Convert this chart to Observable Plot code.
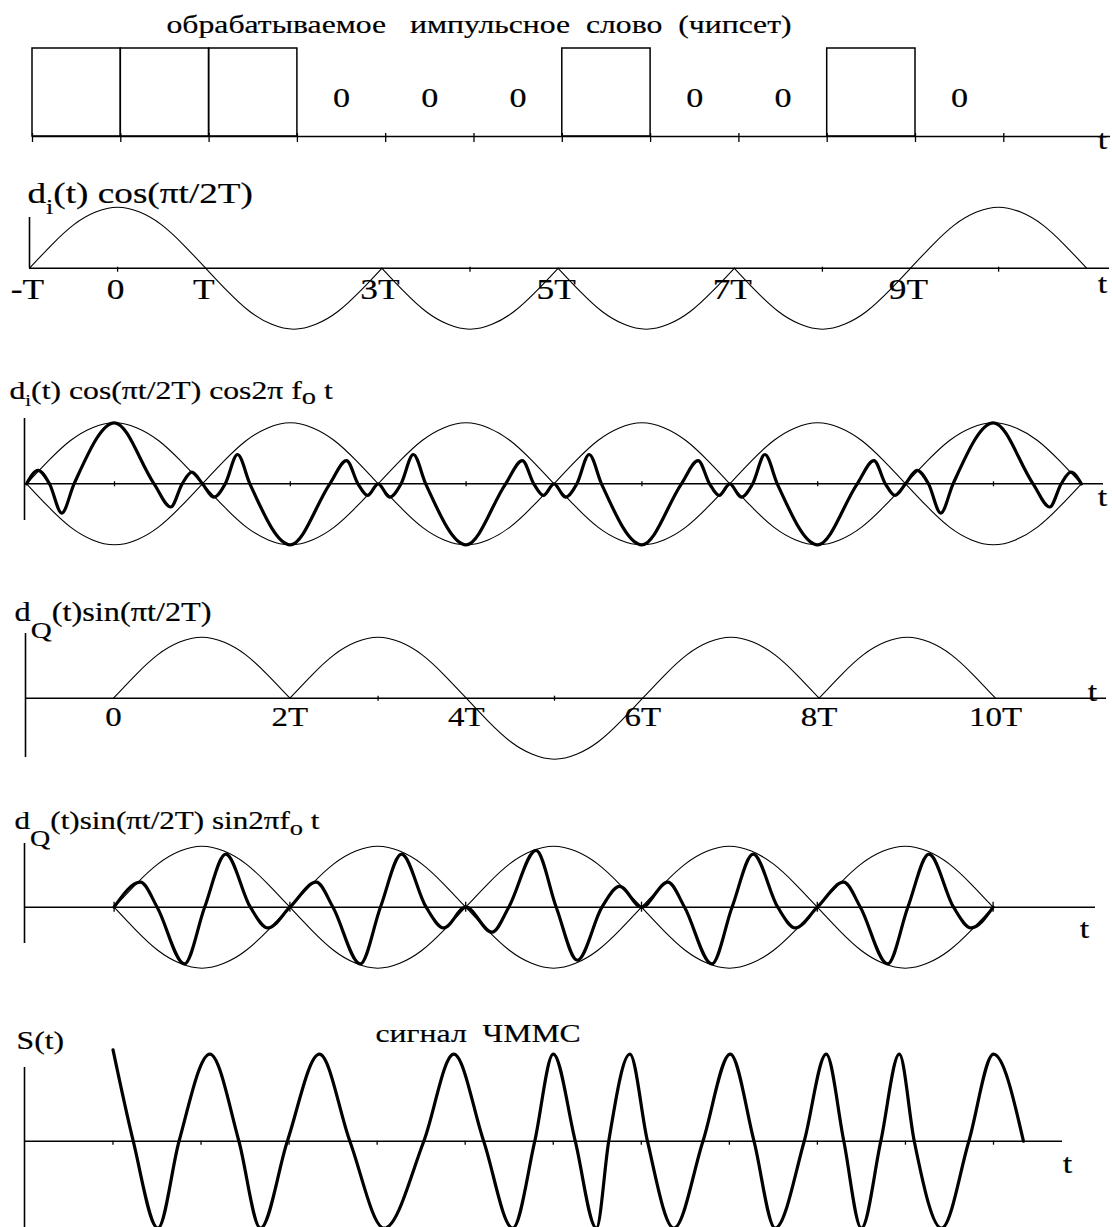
<!DOCTYPE html>
<html><head><meta charset="utf-8">
<script src="https://cdn.jsdelivr.net/npm/d3@7"></script>
<script src="https://cdn.jsdelivr.net/npm/@observablehq/plot@0.6"></script>
<style>
html,body{margin:0;padding:0;background:#fff;}
#chart{position:relative;width:1112px;height:1227px;overflow:hidden;background:#fff;}
#chart svg{position:absolute;left:0;}
#chart svg text{font-family:"Liberation Serif","Times New Roman",serif !important;}
</style></head><body><div id="chart"></div>
<script>
// ---------------- data ----------------
// chip word (each chip lasts T, first chip starts at t = -T)
const chips = [1,1,1,0,0,0,1,0,0,1,0];
const chipStart = -1;
// one half-sine lobe (offsets in T from lobe centre, values relative to peak)
const lobeOffset = [-1,-0.75,-0.5,-0.25,0,0.25,0.5,0.75,1];
const lobeShape  = [0,0.38,0.71,0.92,1,0.92,0.71,0.38,0];
// I branch lobes (centre, sign)
const iLobeCenters = [0,2,4,6,8,10];
const iLobeSigns   = [1,-1,-1,-1,-1,1];
// Q branch lobes
const qLobeCenters = [1,3,5,7,9];
const qLobeSigns   = [1,1,-1,1,1];
// modulated I waveform inside one lobe (offset from centre, value)
const iCarrierOffset = [-1,-0.87,-0.74,-0.6,-0.46,0,0.45,0.64,0.77,0.88,1];
const iCarrierShape  = [0,0.22,0,-0.48,0,1,0,-0.38,0,0.19,0];
// modulated Q waveform inside one lobe
const qCarrierOffset = [-1,-0.70,-0.51,-0.20,0.03,0.27,0.55,0.75,1];
const qCarrierShape  = [0,0.41,0,-0.93,0,0.87,0,-0.34,0];
// S(t) extrema and zero crossings
const sT = [0,0.23,0.51,0.75,1.10,1.43,1.675,1.98,2.345,2.69,3.08,3.53,3.87,4.21,4.54,4.79,5.0,5.25,5.49,5.63,5.87,6.07,6.37,6.70,7.01,7.28,7.52,7.85,8.10,8.30,8.50,8.72,8.93,9.10,9.41,9.72,10.0,10.34];
const sV = [1.05,0,-1,0,1,0,-1,0,1,0,-1,0,1,0,-1,0,1,0,-1,0,1,0,-1,0,1,0,-1,0,1,0,-1,0,1,0,-1,0,1,0];
// tick labels
const iTickLabels = ["-T","0","T","3T","5T","7T","9T"];
const iTickValues = [-1,0,1,3,5,7,9];
const qTickLabels = ["0","2T","4T","6T","8T","10T"];
const qTickValues = [0,2,4,6,8,10];
const p2Ticks = [0,4,8,10];
const p3Ticks = [0,2,4,6,8,10];
const p4Ticks = [3,5];
const p5Ticks = [0,2,4,6,8,10];
const p6Ticks = [0,1,2,3,4,5,6,7,8,9,10];
// texts
const titleText = "обрабатываемое\u00a0\u00a0\u00a0импульсное\u00a0\u00a0слово\u00a0\u00a0(чипсет)";
const labelI  = [["d"],["i",0.7,11],["(t) cos(πt/2T)"]];
const labelIC = [["d"],["i",0.65,7],["(t) cos(πt/2T) cos2π f"],["o",0.9,5],[" t"]];
const labelQ  = [["d"],["Q",0.9,17],["(t)sin(πt/2T)"]];
const labelQS = [["d"],["Q",0.9,17],["(t)sin(πt/2T) sin2πf"],["o",0.85,6],[" t"]];
const labelS  = "S(t)";
const labelFM = "сигнал\u00a0\u00a0ЧММС";
const axisName = "t";

// ---------------- layout ----------------
const W = 1112;
const FONT = "Liberation Serif";
const STRETCH = 1.22;
const L = {
  p1:{top:0,   H:165, base:136,    A:88, x0:120.3, T:88.3,  xEnd:1110},
  p2:{top:165, H:175, base:267.7,  A:61, x0:117.1, T:88.1,  xEnd:1109, axisX:29},
  p3:{top:340, H:235, base:483.3,  A:61, x0:114,   T:87.9,  xEnd:1103, axisX:24},
  p4:{top:575, H:200, base:697.7,  A:61, x0:113,   T:88.2,  xEnd:1106, axisX:25},
  p5:{top:775, H:200, base:906.7,  A:61, x0:113.6, T:87.9,  xEnd:1095, axisX:24},
  p6:{top:975, H:252, base:1140.7, A:87, x0:112.5, T:88.05, xEnd:1062, axisX:24}
};
const tx = (c, px) => (px - c.x0) / c.T;
const RICH = new Map();
function rich(segs, fs) { const s = segs.map(d => d[0]).join(""); RICH.set(s, {segs, fs}); return s; }

function lobeSeries(centers, signs, offs, shape, flip) {
  const out = [];
  centers.forEach((c, k) => offs.forEach((o, j) =>
    out.push({t: c + o, v: (flip ?? signs[k]) * shape[j], z: k})));
  return out;
}
function chained(centers, signs, offs, shape) {
  const out = [];
  centers.forEach((c, k) => offs.forEach((o, j) => {
    if (k > 0 && j === 0) return;
    out.push({t: c + o, v: signs[k] * shape[j]});
  }));
  return out;
}
function axes(c, ticks, up, down, yLo, yHi) {
  const m = [];
  const x1 = c.axisX != null ? tx(c, c.axisX) : chipStart;
  m.push(Plot.ruleY([0], {x1, x2: tx(c, c.xEnd), stroke: "#000", strokeWidth: 1.6}));
  if (yHi != null) m.push(Plot.ruleX([x1], {y1: yLo, y2: yHi, stroke: "#000", strokeWidth: 1.6}));
  m.push(Plot.ruleX(ticks, {y1: -down / c.A, y2: up / c.A, stroke: "#000", strokeWidth: 1.3}));
  return m;
}
const TXT = {fill: "#000", stroke: "#000", strokeWidth: 0.2, fontFamily: FONT, lineAnchor: "bottom"};
function label(c, str, px, py, fs) {
  return Plot.text([str], {...TXT, frameAnchor: "top-left", dx: px, dy: py - c.top,
    textAnchor: "start", fontSize: fs});
}
function tLabel(c, px, py) {
  return Plot.text([axisName], {...TXT, x: tx(c, px), y: 0, dy: py - c.base,
    textAnchor: "middle", fontSize: 28});
}
function decorate(svg) {
  svg.querySelectorAll("text").forEach(el => {
    const r = RICH.get(el.textContent);
    if (r) {
      el.textContent = "";
      let shift = 0;
      for (const s of r.segs) {
        const ts = document.createElementNS("http://www.w3.org/2000/svg", "tspan");
        ts.textContent = s[0];
        const target = s.length > 1 ? s[2] : 0;
        if (target !== shift) { ts.setAttribute("dy", target - shift); shift = target; }
        if (s.length > 1) ts.setAttribute("font-size", r.fs * s[1]);
        el.appendChild(ts);
      }
    }
    const tr = el.getAttribute("transform");
    if (tr) el.setAttribute("transform", `${tr} scale(${STRETCH},1)`);
    else {
      const x = +el.getAttribute("x") || 0;
      el.setAttribute("transform", `translate(${x},0) scale(${STRETCH},1) translate(${-x},0)`);
    }
  });
}
function panel(c, marks) {
  const svg = Plot.plot({
    width: W, height: c.H, margin: 0,
    x: {domain: [-c.x0 / c.T, (W - c.x0) / c.T], range: [0, W], axis: null},
    y: {domain: [(c.base - c.top - c.H) / c.A, (c.base - c.top) / c.A], range: [c.H, 0], axis: null},
    style: {background: "transparent", color: "#000", overflow: "visible"},
    marks: marks.flat().filter(Boolean)
  });
  svg.style.top = c.top + "px";
  decorate(svg);
  document.getElementById("chart").appendChild(svg);
}

// ---------------- panel 1: chip word ----------------
{
  const c = L.p1;
  const chipData = chips.map((b, k) => ({b, t1: chipStart + k, t2: chipStart + k + 1}));
  const bounds = d3.range(chips.length + 1).map(k => chipStart + k);
  panel(c, [
    axes(c, bounds, 3, 6),
    Plot.rect(chipData.filter(d => d.b === 1), {x1: "t1", x2: "t2", y1: 0, y2: 1,
      fill: "none", stroke: "#000", strokeWidth: 1.5}),
    Plot.text(chipData.filter(d => d.b === 0), {...TXT, x: d => (d.t1 + d.t2) / 2, y: 0, text: d => String(d.b),
      dy: -29.3, fontSize: 28}),
    label(c, titleText, 166, 32.3, 26),
    tLabel(c, 1102, 148)
  ]);
}
// ---------------- panel 2: d_i(t) cos ----------------
{
  const c = L.p2;
  panel(c, [
    axes(c, p2Ticks, 1, 4, 0, (c.base - 217) / c.A),
    Plot.line(lobeSeries(iLobeCenters, iLobeSigns, lobeOffset, lobeShape),
      {x: "t", y: "v", z: "z", curve: "natural", stroke: "#000", strokeWidth: 1.1}),
    Plot.text(iTickValues.map((t, i) => ({t, s: iTickLabels[i]})), {...TXT, x: "t", y: 0, text: "s",
      dx: -2, dy: 31, fontSize: 29}),
    label(c, rich(labelI, 30.5), 27, 202, 30.5),
    tLabel(c, 1102, 292)
  ]);
}
// ---------------- panel 3: I modulated ----------------
{
  const c = L.p3;
  panel(c, [
    axes(c, p3Ticks, 2, 3, (c.base - 520) / c.A, (c.base - 418) / c.A),
    Plot.line(lobeSeries(iLobeCenters, iLobeSigns, lobeOffset, lobeShape, 1),
      {x: "t", y: "v", z: "z", curve: "natural", stroke: "#000", strokeWidth: 1.1}),
    Plot.line(lobeSeries(iLobeCenters, iLobeSigns, lobeOffset, lobeShape, -1),
      {x: "t", y: "v", z: "z", curve: "natural", stroke: "#000", strokeWidth: 1.1}),
    Plot.line(chained(iLobeCenters, iLobeSigns, iCarrierOffset, iCarrierShape),
      {x: "t", y: "v", curve: "monotone-x", stroke: "#000", strokeWidth: 3.2, strokeLinejoin: "round"}),
    label(c, rich(labelIC, 26), 9, 398.3, 26),
    tLabel(c, 1102, 505)
  ]);
}
// ---------------- panel 4: d_Q(t) sin ----------------
{
  const c = L.p4;
  panel(c, [
    axes(c, p4Ticks, 2, 3, (c.base - 757) / c.A, (c.base - 633) / c.A),
    Plot.line(lobeSeries(qLobeCenters, qLobeSigns, lobeOffset, lobeShape),
      {x: "t", y: "v", z: "z", curve: "natural", stroke: "#000", strokeWidth: 1.1}),
    Plot.text(qTickValues.map((t, i) => ({t, s: qTickLabels[i]})), {...TXT, x: "t", y: 0, text: "s",
      dy: 27.3, fontSize: 27}),
    label(c, rich(labelQ, 26.5), 14, 620, 26.5),
    tLabel(c, 1092, 700)
  ]);
}
// ---------------- panel 5: Q modulated ----------------
{
  const c = L.p5;
  panel(c, [
    axes(c, p5Ticks, 5, 5, (c.base - 943) / c.A, (c.base - 843) / c.A),
    Plot.line(lobeSeries(qLobeCenters, qLobeSigns, lobeOffset, lobeShape, 1),
      {x: "t", y: "v", z: "z", curve: "natural", stroke: "#000", strokeWidth: 1.1}),
    Plot.line(lobeSeries(qLobeCenters, qLobeSigns, lobeOffset, lobeShape, -1),
      {x: "t", y: "v", z: "z", curve: "natural", stroke: "#000", strokeWidth: 1.1}),
    Plot.line(chained(qLobeCenters, qLobeSigns, qCarrierOffset, qCarrierShape),
      {x: "t", y: "v", curve: "monotone-x", stroke: "#000", strokeWidth: 3.2, strokeLinejoin: "round"}),
    label(c, rich(labelQS, 25.5), 14, 828, 25.5),
    tLabel(c, 1084, 937)
  ]);
}
// ---------------- panel 6: S(t) ----------------
{
  const c = L.p6;
  panel(c, [
    axes(c, p6Ticks, 0, 4, -1.1, (c.base - 1067) / c.A),
    Plot.line(sT.map((t, i) => ({t, v: sV[i]})),
      {x: "t", y: "v", curve: "monotone-x", stroke: "#000", strokeWidth: 3.2, strokeLinejoin: "round"}),
    label(c, labelS, 16, 1048.3, 26),
    label(c, labelFM, 375, 1041, 26),
    tLabel(c, 1067, 1172)
  ]);
}
</script></body></html>
